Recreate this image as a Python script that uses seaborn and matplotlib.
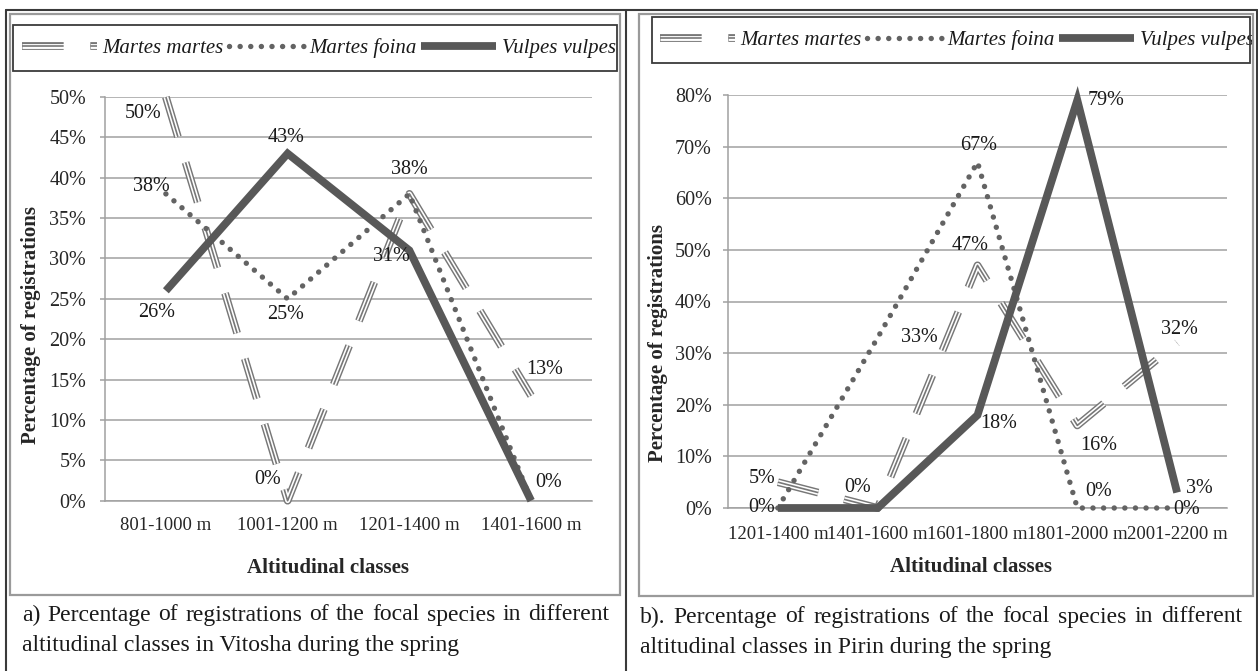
import matplotlib
matplotlib.use("Agg")
import matplotlib.pyplot as plt
import matplotlib.patheffects as pe
from matplotlib.lines import Line2D
from matplotlib.patches import Rectangle
from matplotlib.ticker import FuncFormatter, MultipleLocator
import seaborn as sns
import pandas as pd
import numpy as np

# ---------------- data ----------------
series_names = ["Martes martes", "Martes foina", "Vulpes vulpes"]

vitosha_classes = ["801-1000 m", "1001-1200 m", "1201-1400 m", "1401-1600 m"]
vitosha_martes_martes = [50, 0, 38, 13]
vitosha_martes_foina = [38, 25, 38, 0]
vitosha_vulpes = [26, 43, 31, 0]

pirin_classes = ["1201-1400 m", "1401-1600 m", "1601-1800 m", "1801-2000 m", "2001-2200 m"]
pirin_martes_martes = [5, 0, 47, 16, 32]
pirin_martes_foina = [0, 33, 67, 0, 0]
pirin_vulpes = [0, 0, 18, 79, 3]

caption_a = ["a) Percentage of registrations of the focal species in different",
             "altitudinal classes in Vitosha during the spring"]
caption_b = ["b). Percentage of registrations of the focal species in different",
             "altitudinal classes in Pirin during the spring"]

# ---------------- style ----------------
sns.set_style("white")
SERIF = ["Liberation Serif", "DejaVu Serif"]
plt.rcParams["font.family"] = SERIF
plt.rcParams["text.color"] = "#1a1a1a"

W, H = 1258, 671
PX = 0.72  # points per pixel at dpi 100

GRID = "#a0a0a0"
C_MM = "#777777"
C_MF = "#636363"
C_VV = "#585858"

mm_style = dict(color=C_MM, lw=1.2, linestyle=(0, (25, 16)),
                path_effects=[pe.Stroke(linewidth=5.6, foreground=C_MM),
                              pe.Stroke(linewidth=3.5, foreground="white"),
                              pe.Normal()])
mf_style = dict(color=C_MF, lw=3.9, linestyle=(0, (0.01, 1.95)), dash_capstyle="round")
vv_style = dict(color=C_VV, lw=5.6, solid_capstyle="butt", solid_joinstyle="miter")
styles = [mm_style, mf_style, vv_style]

fig = plt.figure(figsize=(W / 100, H / 100), dpi=100)
fig.patch.set_facecolor("white")


def fx(x):
    return x / W


def fy(y):
    return 1 - y / H


def make_panel(rect_px, classes, values, ymax, label_specs, ylab_xy, xlab_xy,
               ytick_pad, xtick_pad):
    x0, y0, x1, y1 = rect_px
    ax = fig.add_axes([fx(x0), fy(y1), (x1 - x0) / W, (y1 - y0) / H])
    pos = np.arange(len(classes))
    for vals, st in zip(values, styles):
        df = pd.DataFrame({"pos": pos, "val": vals})
        sns.lineplot(data=df, x="pos", y="val", ax=ax, clip_on=False, zorder=3,
                     legend=False, **st)
    ax.set_xlim(-0.5, len(classes) - 0.5)
    ax.set_ylim(0, ymax)
    ax.set_xticks(pos)
    ax.set_xticklabels(classes, fontsize=13.5)
    ax.yaxis.set_major_locator(MultipleLocator(5 if ymax <= 50 else 10))
    ax.yaxis.set_major_formatter(FuncFormatter(lambda v, p: f"{v:.0f}%"))
    ax.tick_params(axis="y", labelsize=14.5, length=3.6, width=1.1, color=GRID,
                   pad=ytick_pad, direction="out", left=True)
    ax.tick_params(axis="x", length=0, pad=xtick_pad)
    ax.yaxis.grid(True, color=GRID, lw=1.1)
    ax.xaxis.grid(False)
    ax.set_axisbelow(True)
    for s in ["top", "right"]:
        ax.spines[s].set_visible(False)
    for s in ["left", "bottom"]:
        ax.spines[s].set_color(GRID)
        ax.spines[s].set_linewidth(1.1)
    ax.set_facecolor("none")
    ax.set_xlabel("Altitudinal classes", fontsize=15, fontweight="bold")
    ax.set_ylabel("Percentage of registrations", fontsize=15, fontweight="bold")
    ax.xaxis.set_label_coords(*xlab_xy)
    ax.yaxis.set_label_coords(*ylab_xy)
    # data labels
    for si, idx, dx, dy in label_specs:
        v = values[si][idx]
        ax.annotate(f"{v:.0f}%", (pos[idx], v), xytext=(dx * PX, -dy * PX),
                    textcoords="offset points", ha="center", va="center",
                    fontsize=14.5, annotation_clip=False, zorder=5)
    return ax


# label specs: (series index, point index, dx px, dy px down)
labels_a = [(0, 0, -23, 16), (0, 1, -20, -21), (0, 2, 0, -24), (0, 3, 14, -26),
            (1, 0, -15, -7), (1, 1, -2, 16),
            (2, 0, -9, 22), (2, 1, -2, -16), (2, 2, -18, 6), (2, 3, 17, -18)]
labels_b = [(0, 0, -16, -4), (0, 1, -20, -20), (0, 2, -7, -20), (0, 3, 21, 20), (0, 4, 2, -13),
            (1, 1, 42, 0), (1, 2, 1, -17), (1, 3, 21, -16), (1, 4, 10, 2),
            (2, 0, -16, 0), (2, 2, 21, 8), (2, 3, 29, 0), (2, 4, 22, -4)]

ax_a = make_panel((105, 97, 592, 500.7), vitosha_classes,
                  [vitosha_martes_martes, vitosha_martes_foina, vitosha_vulpes],
                  50, labels_a, (-0.131, 0.435), (0.458, -0.142), 10, 11.5)
ax_b = make_panel((728, 95, 1227, 508), pirin_classes,
                  [pirin_martes_martes, pirin_martes_foina, pirin_vulpes],
                  80, labels_b, (-0.120, 0.40), (0.487, -0.119), 8, 13)

# ---------------- legends ----------------
handles = [Line2D([], [], **st) for st in styles]
for x_start, yc in [(22, 48), (660, 40)]:
    fig.legend(handles, series_names, loc="center left",
               bbox_to_anchor=(fx(x_start), fy(yc)), ncol=3, frameon=False,
               prop={"family": SERIF, "style": "italic", "size": 15},
               handlelength=3.6, handletextpad=0.25, columnspacing=0.25,
               borderpad=0, borderaxespad=0)

# ---------------- frames ----------------
def rect(x0, y0, x1, y1, color, lw):
    fig.add_artist(Rectangle((fx(x0), fy(y1)), (x1 - x0) / W, (y1 - y0) / H,
                             transform=fig.transFigure, fill=False, ec=color, lw=lw,
                             zorder=10))


def vline(x, y0, y1, color, lw):
    fig.add_artist(Line2D([fx(x), fx(x)], [fy(y0), fy(y1)], transform=fig.transFigure,
                          color=color, lw=lw, zorder=10))


def hline(y, x0, x1, color, lw):
    fig.add_artist(Line2D([fx(x0), fx(x1)], [fy(y), fy(y)], transform=fig.transFigure,
                          color=color, lw=lw, zorder=10))


DARK = "#3a3a3a"
hline(10, 6, 1257, DARK, 1.5)
vline(6, 10, 671, DARK, 1.5)
vline(626, 10, 671, DARK, 1.5)
vline(1257, 10, 671, DARK, 1.5)
rect(10, 14, 620, 595, "#9a9a9a", 1.6)
rect(639, 14, 1253, 596, "#9a9a9a", 1.6)
rect(13, 25, 617, 71, DARK, 1.3)
rect(652, 17, 1250, 63, DARK, 1.3)

# ---------------- captions ----------------
CAP_SIZE = 17
renderer = fig.canvas.get_renderer()


def justified(line, x0, x1, y):
    words = line.split()
    texts = [fig.text(0, 0, w, fontsize=CAP_SIZE, va="center", ha="left") for w in words]
    widths = [t.get_window_extent(renderer).width for t in texts]
    gap = (x1 - x0 - sum(widths)) / (len(words) - 1)
    x = x0
    for t, w in zip(texts, widths):
        t.set_position((fx(x), fy(y)))
        x += w + gap


justified(caption_a[0], 22, 609, 615)
fig.text(fx(22), fy(645), caption_a[1], fontsize=CAP_SIZE, va="center", ha="left")
justified(caption_b[0], 640, 1242, 617)
fig.text(fx(640), fy(648), caption_b[1], fontsize=CAP_SIZE, va="center", ha="left")

fig.savefig("out.png", dpi=100, facecolor="white")
